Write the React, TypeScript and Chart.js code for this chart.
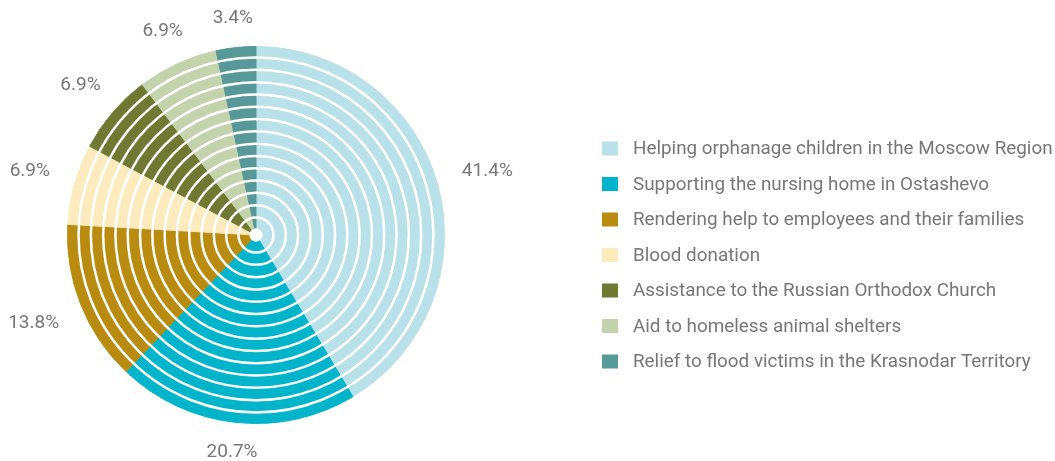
import React, { useEffect, useRef } from "react";
import { Chart, registerables } from "chart.js";

Chart.register(...registerables);

const categories = [
  "Helping orphanage children in the Moscow Region",
  "Supporting the nursing home in Ostashevo",
  "Rendering help to employees and their families",
  "Blood donation",
  "Assistance to the Russian Orthodox Church",
  "Aid to homeless animal shelters",
  "Relief to flood victims in the Krasnodar Territory",
];
const shares = [41.4, 20.7, 13.8, 6.9, 6.9, 6.9, 3.4];
const percentLabels = ["41.4%", "20.7%", "13.8%", "6.9%", "6.9%", "6.9%", "3.4%"];
const colors = ["#b9e1e9", "#00b5cb", "#b98c0f", "#feebbd", "#6f7932", "#c3d4ac", "#579898"];

const RING_COUNT = 15;
const RING_GAP = 2.5;
const TEXT_COLOR = "#777777";
const FONT = "Roboto, 'DejaVu Sans', sans-serif";

const ringGapPlugin = {
  id: "ringGaps",
  afterDatasetsDraw(chart: any) {
    const ctx = chart.ctx;
    ctx.save();
    ctx.strokeStyle = "#ffffff";
    ctx.fillStyle = "#ffffff";
    ctx.lineWidth = RING_GAP;
    const n = chart.data.datasets.length;
    chart.data.datasets.forEach((_: any, i: number) => {
      const meta = chart.getDatasetMeta(i);
      const arc: any = meta.data[0];
      if (!arc) return;
      ctx.beginPath();
      ctx.arc(arc.x, arc.y, arc.innerRadius + RING_GAP / 2, 0, Math.PI * 2);
      ctx.stroke();
      if (i === n - 1) {
        ctx.beginPath();
        ctx.arc(arc.x, arc.y, arc.innerRadius + RING_GAP, 0, Math.PI * 2);
        ctx.fill();
      }
    });
    ctx.restore();
  },
};

const percentLabelPlugin = {
  id: "percentLabels",
  afterDraw(chart: any) {
    const ctx = chart.ctx;
    const meta = chart.getDatasetMeta(0);
    ctx.save();
    ctx.font = `19px ${FONT}`;
    ctx.fillStyle = TEXT_COLOR;
    ctx.textAlign = "center";
    ctx.textBaseline = "middle";
    meta.data.forEach((arc: any, i: number) => {
      const a = (arc.startAngle + arc.endAngle) / 2;
      const text = percentLabels[i];
      const w = ctx.measureText(text).width;
      const r = arc.outerRadius + 27 + (w / 2) * Math.abs(Math.cos(a));
      ctx.fillText(text, arc.x + r * Math.cos(a), arc.y + r * Math.sin(a));
    });
    ctx.restore();
  },
};

const sideLegendPlugin = {
  id: "sideLegend",
  afterDraw(chart: any) {
    const ctx = chart.ctx;
    const left = 602;
    const firstY = 148.5;
    const step = 35.5;
    ctx.save();
    ctx.font = `18.85px ${FONT}`;
    ctx.textAlign = "left";
    ctx.textBaseline = "middle";
    (chart.data.labels as string[]).forEach((label, i) => {
      const yc = firstY + i * step;
      ctx.fillStyle = colors[i];
      ctx.fillRect(left, yc - 7, 16, 14);
      ctx.fillStyle = TEXT_COLOR;
      ctx.fillText(label, left + 31, yc + 1);
    });
    ctx.restore();
  },
};

export default function App() {
  const canvasRef = useRef<HTMLCanvasElement | null>(null);

  useEffect(() => {
    if (!canvasRef.current) return;
    const datasets = Array.from({ length: RING_COUNT }, () => ({
      data: shares,
      backgroundColor: colors,
      borderColor: colors,
      borderWidth: 1,
      hoverBorderWidth: 1,
      offset: 0,
      hoverOffset: 0,
    }));
    const chart = new Chart(canvasRef.current, {
      type: "doughnut",
      data: { labels: categories, datasets },
      options: {
        animation: false,
        responsive: false,
        devicePixelRatio: 1,
        events: [],
        cutout: 4,
        rotation: 0,
        layout: { padding: { left: 0, right: 543, top: 46, bottom: 37 } },
        plugins: {
          legend: { display: false },
          tooltip: { enabled: false },
          title: { display: false },
        },
      },
      plugins: [ringGapPlugin, percentLabelPlugin, sideLegendPlugin],
    });
    return () => chart.destroy();
  }, []);

  return (
    <div style={{ position: "absolute", left: 0, top: 0, width: 1055, height: 461, background: "#ffffff" }}>
      <canvas ref={canvasRef} width={1055} height={461} />
    </div>
  );
}
